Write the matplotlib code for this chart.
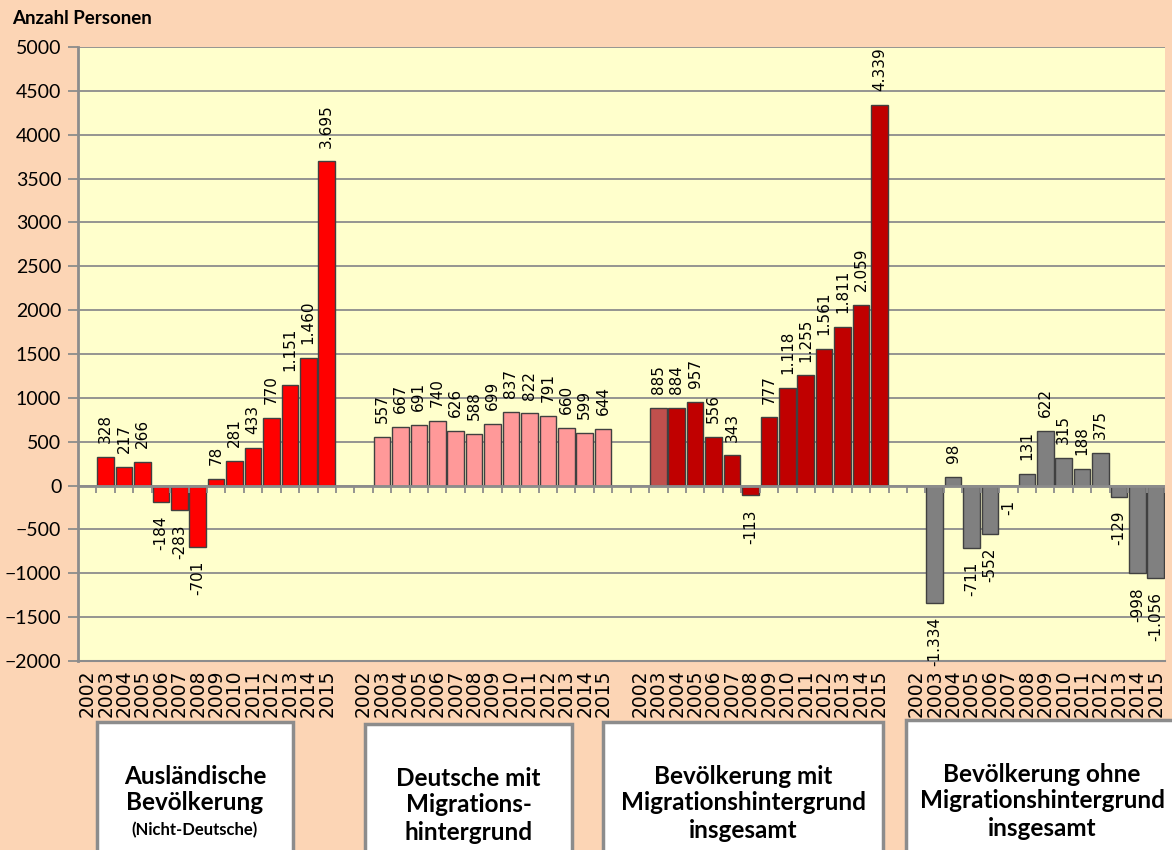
import numpy as np
import matplotlib.pyplot as plt
from matplotlib.patches import Rectangle

# Veränderung gegenüber dem Vorjahr, 2002 ohne Wert
jahre = [str(j) for j in range(2002, 2016)]
auslaender = [None, 328, 217, 266, -184, -283, -701, 78, 281, 433, 770, 1151, 1460, 3695]
deutsche_mh = [None, 557, 667, 691, 740, 626, 588, 699, 837, 822, 791, 660, 599, 644]
mit_mh = [None, 885, 884, 957, 556, 343, -113, 777, 1118, 1255, 1561, 1811, 2059, 4339]
ohne_mh = [None, -1334, 98, -711, -552, -1, 131, 622, 315, 188, 375, -129, -998, -1056]

gruppen = [auslaender, deutsche_mh, mit_mh, ohne_mh]
farben = ['#FF0000', '#FF9999', '#C00000', '#808080']

W, H = 1172, 850
fig = plt.figure(figsize=(W / 100, H / 100), dpi=100, facecolor='#FCD5B5')
ax = fig.add_axes([78 / W, 1 - 661 / H, (1165 - 78) / W, (661 - 47) / H])
ax.set_facecolor('#FFFFCC')

grau = '#8C8C8C'
positionen = []
beschriftungen = []
for gi, werte in enumerate(gruppen):
    start = gi * 15
    for i, v in enumerate(werte):
        x = start + i
        positionen.append(x)
        beschriftungen.append(jahre[i])
        if v is None:
            continue
        farbe = farben[gi]
        if gi == 2 and i == 1:
            farbe = '#C0504D'
        ax.bar(x, v, width=0.9, color=farbe, edgecolor='#404040', linewidth=1, zorder=3)
        text = f"{v:,}".replace(',', '.')
        ax.annotate(text, (x, v), xytext=(0, 10 if v > 0 else -10),
                    textcoords='offset points', rotation=90, ha='center',
                    va='bottom' if v > 0 else 'top', fontsize=11,
                    family='DejaVu Sans', annotation_clip=False, zorder=5)

n = 4 * 15 - 1
ax.set_xlim(-0.5, n - 0.5)
ax.set_ylim(-2000, 5000)
ax.set_yticks(range(-2000, 5001, 500))
ax.yaxis.grid(True, color=grau, linewidth=1.3)
ax.set_axisbelow(True)

ax.axhline(0, color=grau, linewidth=2, zorder=4)
ax.vlines(np.arange(-0.5, n, 1), -80, 0, color=grau, linewidth=1.3, zorder=4)

ax.set_xticks(positionen, beschriftungen, rotation=90, fontsize=13.5, family='DejaVu Sans')
ax.tick_params(axis='x', length=0, pad=6)
ax.tick_params(axis='y', length=7, width=1.3, color=grau, pad=5, labelsize=14)
for lab in ax.get_yticklabels():
    lab.set_family('Lato')

for s in ['top', 'right']:
    ax.spines[s].set_visible(False)
ax.spines['left'].set_color(grau)
ax.spines['left'].set_linewidth(2)
ax.spines['bottom'].set_color(grau)
ax.spines['bottom'].set_linewidth(1.5)

fig.text(12 / W, 1 - 18 / H, 'Anzahl Personen', fontsize=13.5, fontweight='bold',
         family='Lato', va='center')

# Gruppenkästen unter der Achse
kaesten = [
    (97, 293, 722, ['Ausländische', 'Bevölkerung', '(Nicht-Deutsche)']),
    (365, 572, 724, ['Deutsche mit', 'Migrations-', 'hintergrund']),
    (603, 883, 722, ['Bevölkerung mit', 'Migrationshintergrund', 'insgesamt']),
    (906, 1180, 720, ['Bevölkerung ohne', 'Migrationshintergrund', 'insgesamt']),
]
for x0, x1, top, zeilen in kaesten:
    rect = Rectangle((x0 / W, -0.02), (x1 - x0) / W, (H - top) / H + 0.02,
                     transform=fig.transFigure, facecolor='white',
                     edgecolor='#8C8C8C', linewidth=2.5, clip_on=False)
    fig.add_artist(rect)
    xm = (x0 + min(x1, 1178)) / 2
    for k, z in enumerate(zeilen):
        gr = 12 if z.startswith('(') else 17.5
        fig.text(xm / W, 1 - (top + 54 + k * 27) / H, z, fontsize=gr,
                 fontweight='bold', family='Lato', ha='center', va='center')

fig.savefig('out.png', dpi=100, facecolor=fig.get_facecolor())
